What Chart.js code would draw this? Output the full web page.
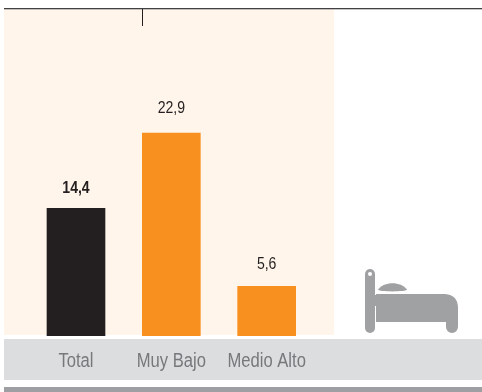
<!DOCTYPE html>
<html>
<head>
<meta charset="utf-8">
<style>
  html, body { margin: 0; padding: 0; background: #fff; }
  #wrap { width: 482px; height: 392px; }
  canvas { display: block; }
</style>
<script src="https://cdn.jsdelivr.net/npm/chart.js@4"></script>
</head>
<body>
<div id="wrap"><canvas id="barsChart" width="482" height="392"></canvas></div>
<script>
var categories = ['Total', 'Muy Bajo', 'Medio Alto'];
var values = [14.4, 22.9, 5.6];
var valueLabels = ['14,4', '22,9', '5,6'];
var barColors = ['#231f20', '#f7901e', '#f7901e'];

// the narrow face of the original is not installed, so squeeze Liberation Sans
function narrowText(c, text, x, y, squeeze) {
  c.save();
  c.translate(x, y);
  c.scale(squeeze, 1);
  c.fillText(text, 0, 0);
  c.restore();
}

// panels and rules behind the bars
var backdrop = {
  id: 'backdrop',
  beforeDraw: function (chart) {
    var c = chart.ctx;
    c.save();
    c.fillStyle = '#fff5eb';
    c.fillRect(4, 9, 330, 326);
    c.fillStyle = '#dcddde';
    c.fillRect(4, 339, 478, 41);
    c.fillStyle = '#9d9fa2';
    c.fillRect(4, 387, 478, 5);
    c.fillStyle = '#414042';
    c.fillRect(4, 8, 478, 1.3);
    c.fillStyle = '#231f20';
    c.fillRect(142, 9, 1, 17);
    c.restore();
  }
};

// value above each bar (first one bold) and the category names
var barLabels = {
  id: 'barLabels',
  afterDatasetsDraw: function (chart) {
    var c = chart.ctx;
    var bars = chart.getDatasetMeta(0).data;
    var gaps = [15, 20, 17];
    c.save();
    c.textAlign = 'center';
    c.textBaseline = 'alphabetic';
    bars.forEach(function (bar, i) {
      c.fillStyle = '#231f20';
      c.font = (i === 0 ? 'bold ' : '') + '16px "Liberation Sans"';
      narrowText(c, valueLabels[i], bar.x, bar.y - gaps[i], 0.88);
      c.fillStyle = '#77787b';
      c.font = '20px "Liberation Sans"';
      narrowText(c, categories[i], chart.scales.x.getPixelForTick(i), 367, 0.83);
    });
    c.restore();
  }
};

// bed icon on the right
var bedIcon = {
  id: 'bedIcon',
  afterDraw: function (chart) {
    var c = chart.ctx;
    c.save();
    c.fillStyle = '#a0a1a3';
    c.beginPath();
    c.roundRect(365, 269, 10, 64, 5);
    c.fill();
    c.fillRect(374, 295, 4, 11);
    c.beginPath();
    c.moveTo(376, 294);
    c.lineTo(445, 294);
    c.quadraticCurveTo(458, 295, 458, 308);
    c.lineTo(458, 328);
    c.arcTo(458, 333, 452, 333, 6);
    c.arcTo(446, 333, 446, 328, 6);
    c.lineTo(446, 322);
    c.lineTo(376, 322);
    c.closePath();
    c.fill();
    c.beginPath();
    c.moveTo(378, 289.5);
    c.bezierCurveTo(384, 281, 401, 281, 407, 289.5);
    c.bezierCurveTo(407, 292, 378, 292, 378, 289.5);
    c.fill();
    c.fillStyle = '#fff';
    c.beginPath();
    c.arc(370, 274, 2, 0, Math.PI * 2);
    c.fill();
    c.restore();
  }
};

new Chart(document.getElementById('barsChart').getContext('2d'), {
  type: 'bar',
  data: {
    labels: categories,
    datasets: [{
      data: values,
      backgroundColor: barColors,
      barThickness: 58
    }]
  },
  options: {
    responsive: false,
    animation: false,
    layout: { padding: { left: 28.33, right: 167.67, top: 9, bottom: 0 } },
    plugins: { legend: { display: false }, tooltip: { enabled: false } },
    scales: {
      x: {
        grid: { display: false },
        border: { display: false },
        afterFit: function (scale) { scale.height = 56; },
        ticks: { display: false }
      },
      y: {
        display: false,
        min: 0,
        max: 36.9
      }
    }
  },
  plugins: [backdrop, barLabels, bedIcon]
});
</script>
</body>
</html>
